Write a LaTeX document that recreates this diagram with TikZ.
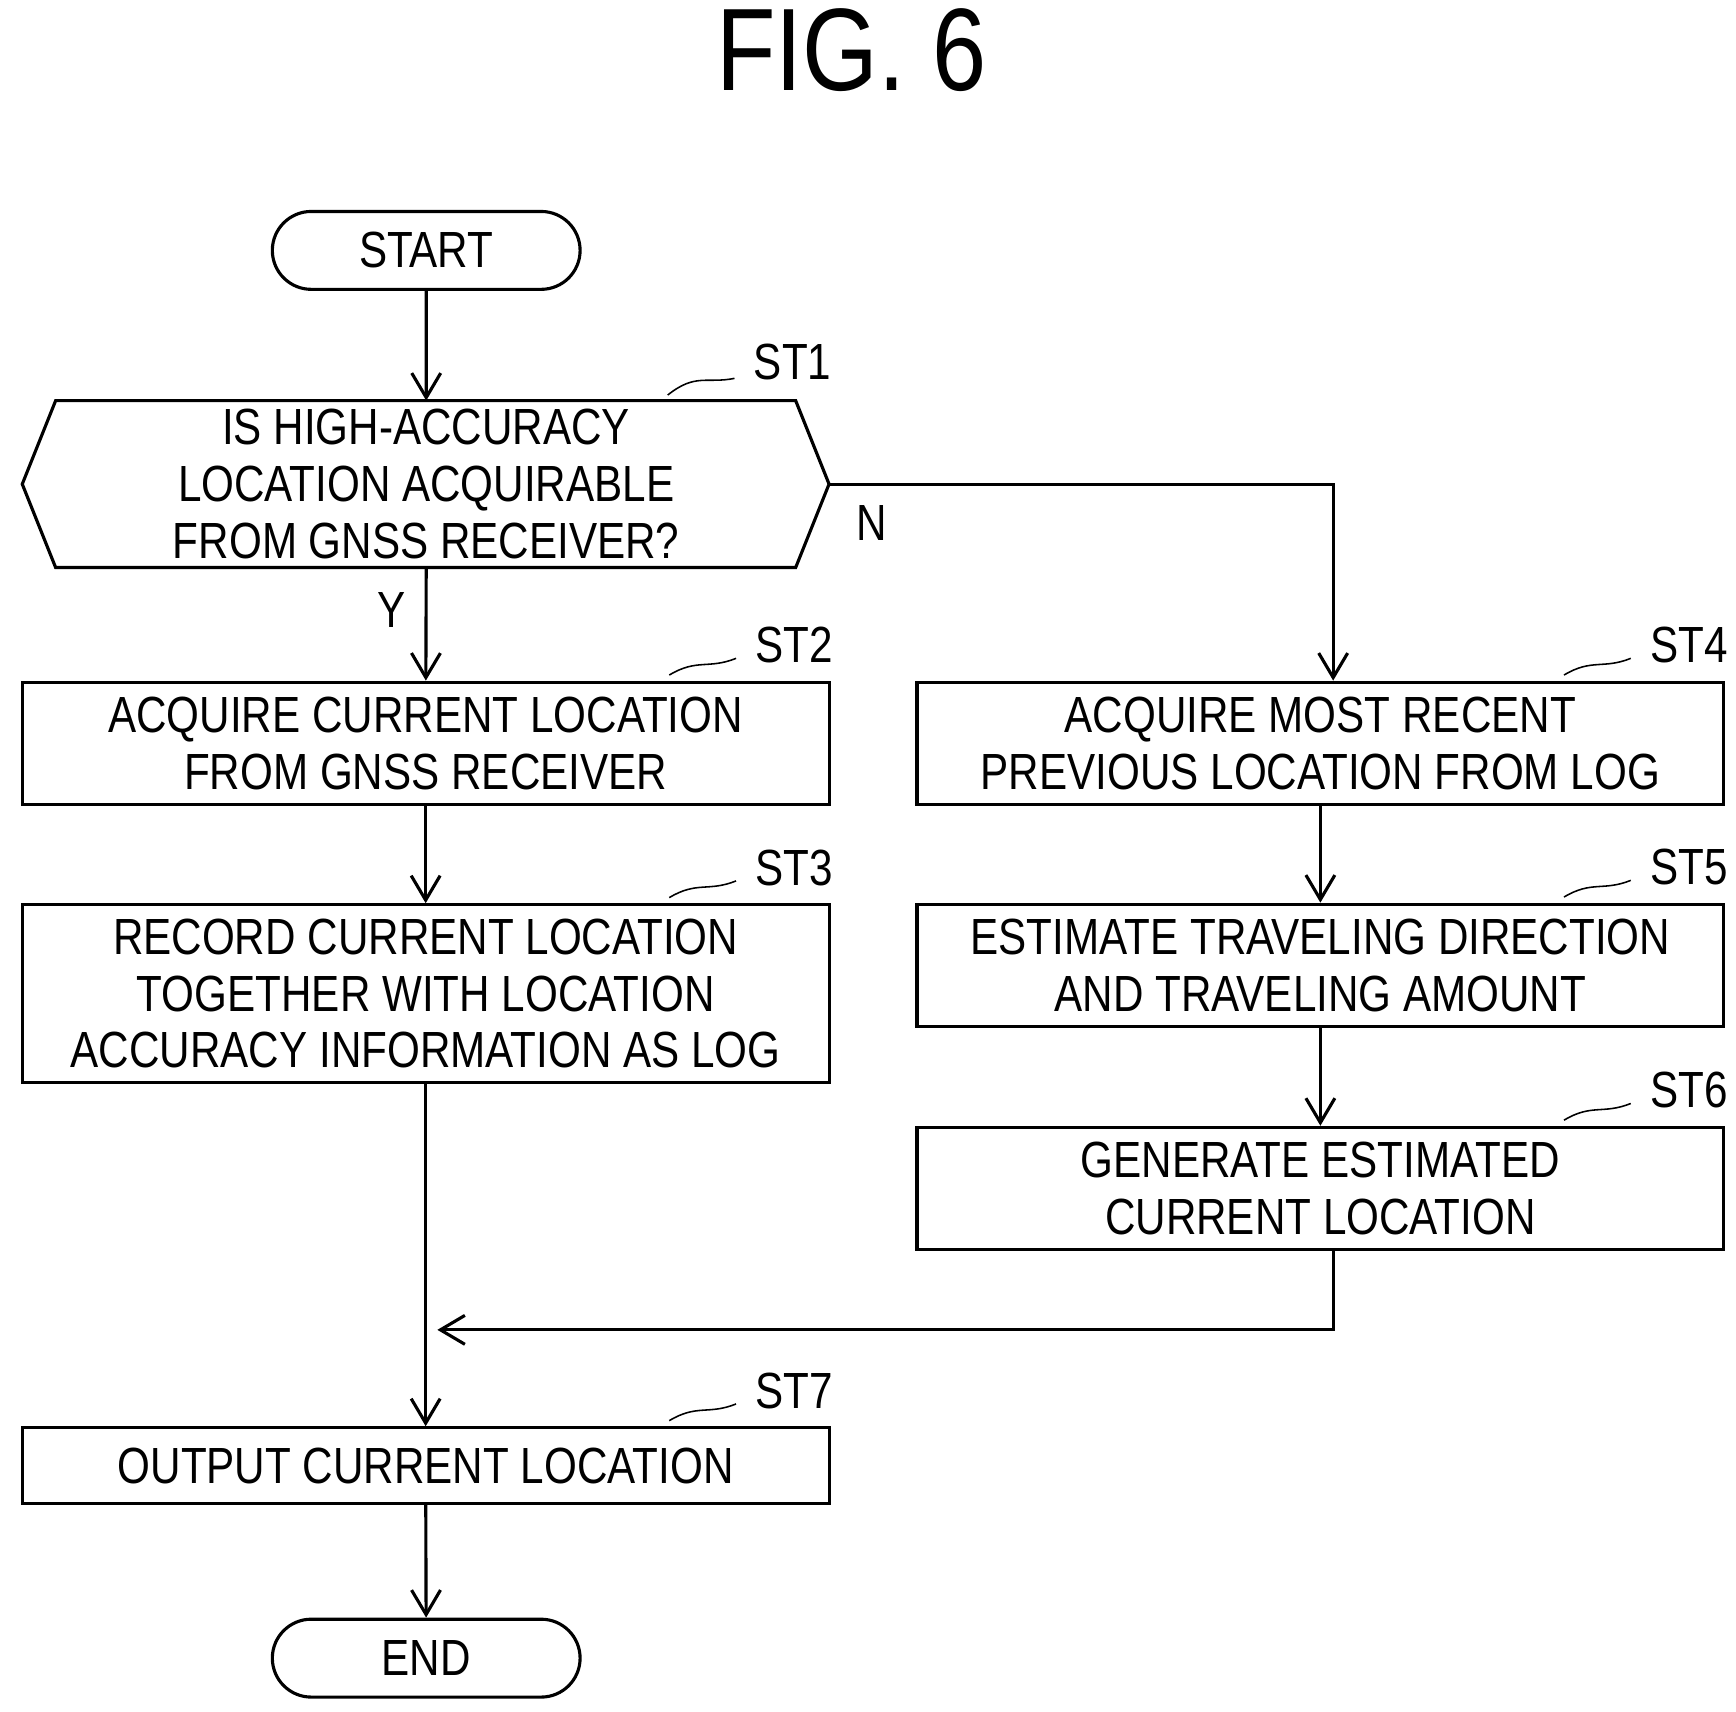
\documentclass[tikz,border=0pt]{standalone}
\usepackage{fontspec}
\setmainfont{Liberation Sans}[FakeStretch=0.83]
\usetikzlibrary{shapes.misc,arrows.meta,positioning,calc}
\tikzset{
	stepbox/.style={draw,thick,minimum width=7.25cm,align=center,font=\fontsize{13}{14.5}\selectfont,inner sep=0pt},
	term/.style={draw,thick,rounded rectangle,minimum width=3cm,minimum height=0.7cm,font=\fontsize{13}{14.5}\selectfont},
	flow/.style={thick,-{Straight Barb[length=2.2mm,width=2.6mm]}},
	tag/.style={font=\fontsize{13}{14.5}\selectfont}
}
\newcommand{\steptag}[2]{%
	\draw[thin] ($(#1.north east)+(-1.45,0.05)$) .. controls +(0.25,0.15) and +(-0.25,-0.1) .. +(0.6,0.15);
	\node[tag,anchor=west] at ($(#1.north east)+(-0.8,0.32)$) {#2};}
\begin{document}
\begin{tikzpicture}
		\useasboundingbox (0,0) rectangle (15.6,-15.38);
		%
		% title
		\node[font=\fontsize{30}{32}\selectfont] (title) at (7.65,-0.45) {FIG. 6};
		%
		% left column
		\node[term] (start) at (3.83,-2.25) {START};
		\coordinate (dL) at (0.2,-4.35);
		\coordinate (dR) at (7.45,-4.35);
		\draw[thick] (0.5,-3.6) -- (7.15,-3.6) -- (dR) -- (7.15,-5.1) -- (0.5,-5.1) -- (dL) -- cycle;
		\node[align=center,font=\fontsize{13}{14.5}\selectfont] (dec) at (3.83,-4.35) {IS HIGH-ACCURACY\\LOCATION ACQUIRABLE\\FROM GNSS RECEIVER?};
		\coordinate (decT) at (3.83,-3.6);
		\coordinate (decB) at (3.83,-5.1);
		\draw[thin] (6.0,-3.55) .. controls (6.25,-3.35) and (6.35,-3.45) .. (6.6,-3.4);
		\node[tag,anchor=west] (st1) at (6.65,-3.25) {ST1};
		\node[stepbox,minimum height=1.1cm] (st2) at (3.825,-6.68) {ACQUIRE CURRENT LOCATION\\FROM GNSS RECEIVER};
		\node[stepbox,minimum height=1.6cm] (st3) at (3.825,-8.93) {RECORD CURRENT LOCATION\\TOGETHER WITH LOCATION\\ACCURACY INFORMATION AS LOG};
		\node[stepbox,minimum height=0.68cm] (st7) at (3.825,-13.17) {OUTPUT CURRENT LOCATION};
		\node[term] (end) at (3.83,-14.9) {END};
		%
		% right column
		\node[stepbox,minimum height=1.1cm] (st4) at (11.865,-6.68) {ACQUIRE MOST RECENT\\PREVIOUS LOCATION FROM LOG};
		\node[stepbox,minimum height=1.1cm] (st5) at (11.865,-8.675) {ESTIMATE TRAVELING DIRECTION\\AND TRAVELING AMOUNT};
		\node[stepbox,minimum height=1.1cm] (st6) at (11.865,-10.68) {GENERATE ESTIMATED\\CURRENT LOCATION};
		%
		% tags
		\steptag{st2}{ST2}
		\steptag{st3}{ST3}
		\steptag{st4}{ST4}
		\steptag{st5}{ST5}
		\steptag{st6}{ST6}
		\steptag{st7}{ST7}
		%
		% connectors
		\coordinate (nTurn) at (11.98,-4.35);
		\coordinate (merge) at (3.83,-11.95);
		\coordinate (rTurn) at (11.98,-11.95);
		\draw[flow] (start) -- (decT);
		\draw[flow] (decB) -- (st2);
		\draw[flow] (st2) -- (st3);
		\draw[flow] (st3) -- (st7);
		\draw[flow] (st7) -- (end);
		\draw[flow] (dR) -- (nTurn) -- (st4.north -| nTurn);
		\draw[flow] (st4) -- (st5);
		\draw[flow] (st5) -- (st6);
		\draw[flow] (st6.south -| rTurn) -- (rTurn) -- ($(merge)+(0.1,0)$);
		\node[tag] (yes) at (3.52,-5.48) {Y};
		\node[tag] (no) at (7.83,-4.7) {N};
	\end{tikzpicture}
\end{document}
